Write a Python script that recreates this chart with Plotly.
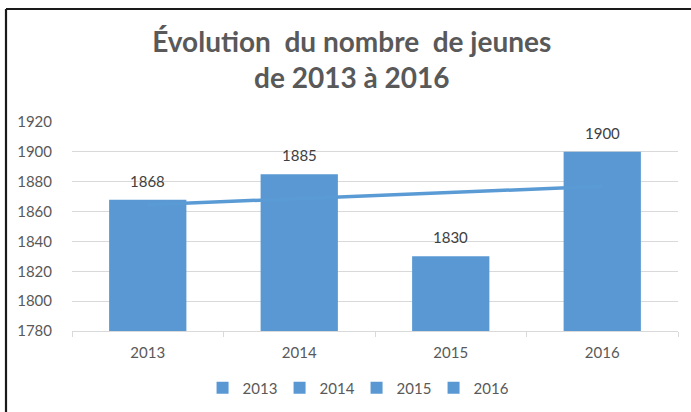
import numpy as np
import plotly.graph_objects as go

years = ["2013", "2014", "2015", "2016"]
values = [1868, 1885, 1830, 1900]
y_ticks = [1780, 1800, 1820, 1840, 1860, 1880, 1900, 1920]
title_lines = ["Évolution  du nombre  de jeunes", "de 2013 à 2016"]

BAR = "#5a98d3"
FONT = "Lato"

fig = go.Figure()
for i, (yr, v) in enumerate(zip(years, values)):
    fig.add_trace(go.Bar(
        x=[yr], y=[v], name=yr, width=0.51,
        marker=dict(color=BAR, line=dict(width=0)),
        hoverinfo="x+y",
    ))
    # value label, anchored on the bar's category index and value
    fig.add_annotation(x=i, y=v, text=str(v), showarrow=False,
                       yanchor="bottom", yshift=8,
                       font=dict(family=FONT, size=15, color="#404040"))

# linear trendline computed from the data
idx = np.arange(1, len(values) + 1)
slope, intercept = np.polyfit(idx, values, 1)
trend = slope * idx + intercept
fig.add_trace(go.Scatter(
    x=years, y=trend, mode="lines", showlegend=False, hoverinfo="skip",
    line=dict(color="#5b9bd5", width=3.5),
))

fig.update_layout(
    width=691, height=412,
    margin=dict(l=72, r=13, t=122, b=81, autoexpand=False),
    paper_bgcolor="white", plot_bgcolor="white",
    barmode="overlay",
    font=dict(family=FONT, size=15, color="#595959"),
    title=dict(
        text="<b>" + "<br>".join(title_lines) + "</b>",
        x=0.509, xref="container", xanchor="center",
        y=0.875, yref="container", yanchor="top",
        font=dict(family=FONT, size=28, color="#595959"),
    ),
    xaxis=dict(
        type="category", categoryorder="array", categoryarray=years,
        showgrid=False, showline=True, linecolor="#d9d9d9", linewidth=1,
        ticks="outside", tickson="boundaries", ticklen=5, tickcolor="#d9d9d9",
        tickfont=dict(family=FONT, size=15, color="#595959"),
        ticklabelstandoff=8, tickangle=0,
    ),
    yaxis=dict(
        range=[1780, 1920], tickvals=y_ticks, showgrid=True, gridcolor="#d9d9d9", gridwidth=1,
        showline=False, zeroline=False, ticks="",
        tickfont=dict(family=FONT, size=15, color="#595959"),
        ticklabelstandoff=19,
    ),
    legend=dict(
        orientation="h", x=0.516, xref="container", xanchor="center",
        y=0.058, yref="container", yanchor="middle",
        font=dict(family=FONT, size=15, color="#595959"),
        itemwidth=30, entrywidth=32, traceorder="normal",
    ),
    showlegend=True,
)

# chart border (top and left edges visible in the frame)
fig.add_shape(type="line", xref="paper", yref="paper",
              x0=(6 - 72) / 606, x1=1.1, y0=(331 - 9) / 209, y1=(331 - 9) / 209,
              line=dict(color="#1a1a1a", width=2.2))
fig.add_shape(type="line", xref="paper", yref="paper",
              x0=(6 - 72) / 606, x1=(6 - 72) / 606, y0=(331 - 9) / 209, y1=-0.5,
              line=dict(color="#1a1a1a", width=2.2))

fig.write_html("out.html", config={"displayModeBar": False},
               post_script="document.body.style.margin='0';")
